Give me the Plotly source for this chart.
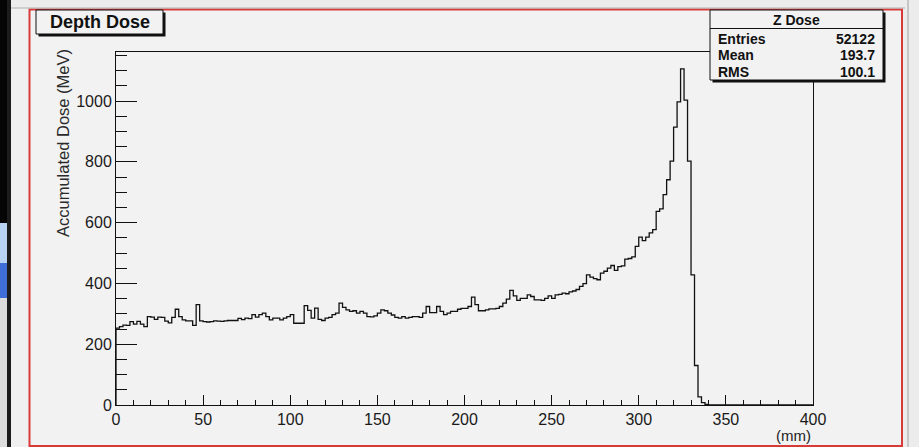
import numpy as np
import plotly.graph_objects as go

# Histogram binning (mm)
x_min, x_max, bin_width = 0, 400, 2

# Accumulated dose per 2 mm bin (MeV), 200 bins from 0 to 400 mm
dose = [
    # 0 - 48 mm
    253, 258, 263, 262, 274, 266, 275, 266, 258, 291,
    289, 282, 289, 288, 276, 270, 288, 315, 291, 280,
    277, 277, 262, 330, 277,
    # 50 - 80 mm
    274, 273, 274, 277, 276, 275, 277, 278, 278, 278,
    285, 281, 286, 284, 297, 289,
    # 82 - 166 mm
    297, 302, 291, 280, 286, 286, 280, 286, 291, 297,
    269, 269, 269, 327, 311, 286, 319, 282, 278, 286,
    288, 297, 302, 335, 321, 313, 308, 310, 302, 308,
    302, 291, 290, 293, 302, 313, 310, 302, 296, 288,
    286, 291, 286,
    # 168 - 250 mm
    288, 291, 291, 288, 302, 324, 304, 304, 324, 308,
    297, 302, 308, 308, 315, 318, 318, 324, 355, 330,
    310, 310, 313, 316, 316, 318, 324, 335, 348, 377,
    359, 344, 351, 351, 362, 357, 346, 346, 344, 351,
    359, 351,
    # 252 - 268 mm
    362, 364, 368, 366, 372, 375, 380, 390, 399,
    # 270 - 338 mm (Bragg peak region)
    428, 421, 416, 412, 434, 440, 450, 459, 443, 455,
    458, 480, 482, 487, 522, 552, 541, 552, 566, 577,
    637, 645, 692, 741, 802, 914, 997, 1106, 1003, 802,
    428, 130, 27, 8, 2,
    # 340 - 398 mm
    0, 0, 0, 0, 0, 0, 0, 0, 0, 0,
    0, 0, 0, 0, 0, 0, 0, 0, 0, 0,
    0, 0, 0, 0, 0, 0, 0, 0, 0, 0,
]

x_ticks = [0, 50, 100, 150, 200, 250, 300, 350, 400]
y_ticks = [0, 200, 400, 600, 800, 1000]

hist_title = "Depth Dose"
stats_title = "Z Dose"
stats_labels = ["Entries", "Mean", "RMS"]
stats_values = ["52122", "193.7", "100.1"]
y_title = "Accumulated Dose (MeV)"
x_title = "(mm)"

edges = np.arange(x_min, x_max + bin_width, bin_width)
y_max = max(dose) * 1.05

# Canvas geometry (pixels)
W, H = 919, 447
L, R, T, B = 116, 106, 52, 42
PW, PH = W - L - R, H - T - B


def px(x):
    return (x - L) / PW


def py(y):
    return (H - B - y) / PH


BG = "#f2f2f2"
FONT = "Liberation Sans, Arial, Helvetica, sans-serif"

# Step outline of the histogram
step_x = [x_min] + list(edges[:-1]) + [x_max]
step_y = [0] + dose + [dose[-1]]

fig = go.Figure()
fig.add_trace(go.Scatter(
    x=step_x, y=step_y, mode="lines", line_shape="hv",
    line=dict(color="#111111", width=1.3), hoverinfo="skip", showlegend=False,
))

shapes = []


def rect(x0, y0, x1, y1, fill=None, line=None, width=1, layer="above"):
    shapes.append(dict(
        type="rect", xref="paper", yref="paper",
        x0=px(x0), x1=px(x1), y0=py(y1), y1=py(y0),
        fillcolor=fill if fill else "rgba(0,0,0,0)",
        line=dict(color=line if line else "rgba(0,0,0,0)", width=width if line else 0),
        layer=layer,
    ))


def hline(x0, x1, y, color="#111111", width=1):
    shapes.append(dict(type="line", xref="paper", yref="paper",
                       x0=px(x0), x1=px(x1), y0=py(y), y1=py(y),
                       line=dict(color=color, width=width), layer="above"))


def vline(x, y0, y1, color="#111111", width=1):
    shapes.append(dict(type="line", xref="paper", yref="paper",
                       x0=px(x), x1=px(x), y0=py(y0), y1=py(y1),
                       line=dict(color=color, width=width), layer="above"))


# Window surroundings of the canvas
rect(0, 0, 7, 223, fill="#050505", layer="below")
rect(0, 223, 7, 263, fill="#b9d3f2", layer="below")
rect(0, 263, 7, 298, fill="#3f6fd6", layer="below")
rect(0, 298, 7, 447, fill="#dcdcdc", layer="below")
rect(7, 0, 11, 447, fill="#1c1c1c", layer="below")
rect(11, 0, 29, 447, fill="#f0f0f0", layer="below")
rect(11, 0, 919, 8, fill="#ececec", layer="below")
hline(11, 905, 8, color="#b0b0b0", width=1)
rect(903, 0, 919, 447, fill="#ececec", layer="below")
vline(908, 0, 447, color="#a0a0a0", width=1)

# Red selected-pad frame
rect(29.5, 9.5, 902, 446, line="#d83a3a", width=2, layer="below")

# Title box with shadow
rect(38.5, 12.5, 165.5, 36.5, fill="#111111")
rect(36, 10, 163, 34, fill=BG, line="#111111", width=1)

# Statistics box with shadow
rect(712.5, 12.5, 885.5, 82.5, fill="#111111")
rect(710, 10, 883, 80, fill=BG, line="#111111", width=1)
hline(710, 883, 28.5)

annotations = [
    dict(text="<b>%s</b>" % hist_title, x=px(99.5), y=py(22.5), xref="paper", yref="paper",
         showarrow=False, xanchor="center", yanchor="middle",
         font=dict(family=FONT, size=18, color="#111111")),
    dict(text="<b>%s</b>" % stats_title, x=px(796), y=py(19.5), xref="paper", yref="paper",
         showarrow=False, xanchor="center", yanchor="middle",
         font=dict(family=FONT, size=14, color="#111111")),
    dict(text=y_title, textangle=-90, x=px(63), y=py(143), xref="paper", yref="paper",
         showarrow=False, xanchor="center", yanchor="middle",
         font=dict(family=FONT, size=16.5, color="#2a2a2a")),
    dict(text=x_title, x=px(813), y=py(435), xref="paper", yref="paper",
         showarrow=False, xanchor="right", yanchor="middle",
         font=dict(family=FONT, size=15, color="#222222")),
]
for i, (lab, val) in enumerate(zip(stats_labels, stats_values)):
    yy = 39 + i * 16.3
    annotations.append(dict(text="<b>%s</b>" % lab, x=px(716), y=py(yy), xref="paper", yref="paper",
                            showarrow=False, xanchor="left", yanchor="middle",
                            font=dict(family=FONT, size=14, color="#111111")))
    annotations.append(dict(text="<b>%s</b>" % val, x=px(877), y=py(yy), xref="paper", yref="paper",
                            showarrow=False, xanchor="right", yanchor="middle",
                            font=dict(family=FONT, size=14, color="#111111")))

axis_common = dict(
    showgrid=False, zeroline=False, showline=True, linecolor="#111111", linewidth=1,
    mirror=True, ticks="inside", tickcolor="#111111", tickwidth=1,
    tickfont=dict(family=FONT, size=16, color="#1a1a1a"),
)

fig.update_layout(
    width=W, height=H,
    margin=dict(l=L, r=R, t=T, b=B, pad=0),
    paper_bgcolor=BG, plot_bgcolor=BG,
    showlegend=False,
    xaxis=dict(range=[x_min, x_max], tickvals=x_ticks, ticklen=10,
               minor=dict(dtick=10, ticklen=5, ticks="inside", tickcolor="#111111", showgrid=False),
               **axis_common),
    yaxis=dict(range=[0, y_max], tickvals=y_ticks, ticklen=21,
               minor=dict(dtick=50, ticklen=11, ticks="inside", tickcolor="#111111", showgrid=False),
               **axis_common),
    shapes=shapes,
    annotations=annotations,
)

fig.write_html("out.html")
